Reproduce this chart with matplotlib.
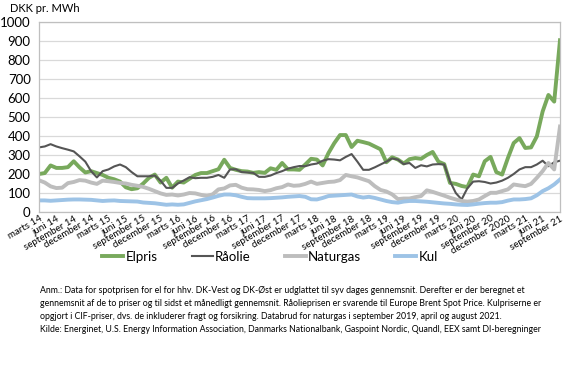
import matplotlib
matplotlib.use("Agg")
import matplotlib.pyplot as plt
import numpy as np

plt.rcParams['font.family'] = ['Lato', 'DejaVu Sans']

# monthly values, marts 2014 - september 2021 (DKK pr. MWh)
elpris = [200, 205, 245, 232, 232, 236, 267, 235, 208, 215,
          205, 195, 180, 172, 160, 130, 120, 125, 150, 180,
          197, 155, 180, 128, 160, 155, 175, 195, 205, 205,
          215, 225, 275, 232, 222, 215, 213, 206, 210, 206,
          230, 222, 258, 224, 224, 222, 250, 280, 276, 245,
          310, 362, 405, 405, 342, 375, 368, 360, 345, 330,
          262, 288, 276, 255, 278, 284, 280, 300, 316, 265,
          252, 153, 148, 137, 131, 197, 188, 267, 290, 210,
          197, 284, 363, 389, 337, 340, 398, 529, 616, 581,
          904]
raaolie = [340, 345, 357, 345, 336, 328, 319, 293, 265, 215,
           182, 215, 224, 240, 250, 236, 210, 188, 188, 188,
           192, 165, 127, 127, 150, 166, 183, 178, 180, 180,
           185, 195, 180, 224, 225, 210, 208, 206, 185, 185,
           192, 205, 215, 228, 236, 242, 241, 250, 255, 270,
           278, 276, 272, 290, 305, 265, 222, 222, 235, 250,
           265, 282, 276, 252, 258, 232, 246, 240, 250, 252,
           250, 162, 100, 66, 125, 160, 162, 158, 150, 155,
           165, 180, 200, 224, 236, 236, 250, 270, 241, 262,
           270]
naturgas = [167, 155, 135, 126, 128, 152, 158, 168, 165, 155,
            148, 165, 162, 158, 153, 150, 143, 138, 132, 122,
            110, 98, 90, 92, 87, 92, 100, 98, 90, 84,
            93, 119, 124, 140, 143, 128, 120, 119, 116, 110,
            115, 125, 131, 145, 138, 140, 148, 160, 148, 153,
            158, 160, 168, 195, 188, 182, 172, 162, 136, 116,
            108, 93, 68, 71, 71, 78, 84, 114, 106, 96,
            86, 75, 66, 58, 55, 58, 66, 84, 101, 101,
            110, 119, 145, 140, 136, 148, 180, 215, 258, 224,
            450]
kul = [61, 61, 59, 61, 63, 65, 66, 66, 65, 64,
       61, 58, 60, 61, 58, 57, 56, 55, 50, 48,
       46, 42, 38, 40, 38, 40, 48, 56, 62, 68,
       76, 85, 92, 92, 88, 80, 73, 72, 72, 72,
       73, 75, 77, 80, 82, 84, 80, 67, 66, 74,
       84, 86, 88, 90, 92, 82, 76, 80, 74, 66,
       58, 52, 49, 55, 58, 58, 56, 54, 51, 48,
       45, 43, 40, 38, 37, 40, 44, 47, 49, 49,
       52, 60, 66, 66, 68, 72, 88, 110, 125, 145,
       171]

tick_labels = ["marts 14", "juni 14", "september 14", "december 14",
               "marts 15", "juni 15", "september 15", "december 15",
               "marts 16", "juni 16", "september 16", "december 16",
               "marts 17", "juni 17", "september 17", "december 17",
               "marts 18", "juni 18", "september 18", "december 18",
               "marts 19", "juni 19", "september 19", "december 19",
               "marts 20", "juni 20", "september 20", "december 2020",
               "marts 21", "juni 21", "september 21"]

note = ("Anm.: Data for spotprisen for el for hhv. DK-Vest og DK-Øst er udglattet til syv dages gennemsnit. Derefter er der beregnet et\n"
        "gennemsnit af de to priser og til sidst et månedligt gennemsnit. Råolieprisen er svarende til Europe Brent Spot Price. Kulpriserne er\n"
        "opgjort i CIF-priser, dvs. de inkluderer fragt og forsikring. Databrud for naturgas i september 2019, april og august 2021.\n"
        "Kilde: Energinet, U.S. Energy Information Association, Danmarks Nationalbank, Gaspoint Nordic, Quandl, EEX samt DI-beregninger")

fig = plt.figure(figsize=(5.7, 3.69), dpi=100)
ax = fig.add_axes([39/570, 1-212/369, 521/570, 190/369])

x = np.arange(len(elpris))
ax.plot(x, elpris, color='#78A95C', lw=2.8, label='Elpris', solid_joinstyle='round')
ax.plot(x, raaolie, color='#555555', lw=1.5, label='Råolie')
ax.plot(x, naturgas, color='#BDBDBD', lw=2.8, label='Naturgas', solid_joinstyle='round')
ax.plot(x, kul, color='#9DC3E6', lw=2.8, label='Kul', solid_joinstyle='round')

ax.set_xlim(0, len(elpris) - 1)
ax.set_ylim(0, 1000)
ax.set_yticks(range(0, 1001, 100))
ax.set_xticks(x[::3])
ax.set_xticklabels(tick_labels, rotation=30, ha='right', va='top',
                   rotation_mode='anchor', fontsize=7.0)
ax.tick_params(axis='y', labelsize=9.5, length=0, pad=6)
ax.tick_params(axis='x', length=0, pad=1.5)
ax.grid(axis='y', color='#D9D9D9', lw=0.9)
ax.set_axisbelow(True)
for s in ax.spines.values():
    s.set_color('#BFBFBF')
    s.set_linewidth(0.9)

fig.text(10/570, 1-8/369, "DKK pr. MWh", fontsize=8, va='center', ha='left')

fig.legend(loc='center', bbox_to_anchor=(270/570, 1-257/369), ncol=4,
           frameon=False, fontsize=9.5, handlelength=1.6, handletextpad=0.15,
           columnspacing=2.6)

fig.text(40/570, 1-286/369, note, fontsize=6.35, va='top', ha='left', linespacing=1.55)

fig.savefig("out.png", dpi=100)
